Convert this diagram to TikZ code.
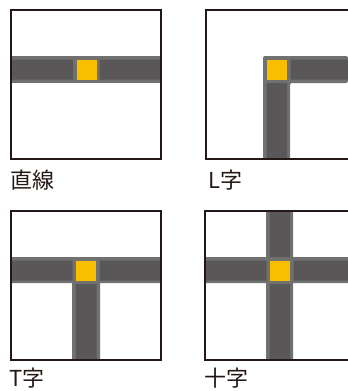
\documentclass[tikz,border=0pt]{standalone}
\usepackage{fontspec}
\newfontfamily\jpfont{Noto Sans CJK JP}
\definecolor{framec}{HTML}{231815}
\definecolor{roadc}{HTML}{595757}
\definecolor{edgec}{HTML}{727171}
\definecolor{cellc}{HTML}{F8BF00}
\tikzset{
  frame/.style={draw=framec, line width=1.4pt},
  roadedge/.style={fill=edgec},
  road/.style={fill=roadc},
  cell/.style={fill=cellc},
  caption/.style={anchor=west, inner sep=0pt, font=\jpfont\fontsize{22}{22}\selectfont, text=framec}
}
\begin{document}
\begin{tikzpicture}[x=1pt, y=-1pt]
    \useasboundingbox (0, 0) rectangle (348, 391);
    % straight
    \fill[roadedge] (11, 56) rectangle (161, 83);
    \fill[road] (11, 59.5) rectangle (73, 79.5)
                (99.5, 59.5) rectangle (161, 79.5);
    \fill[cell] (76.5, 59.5) rectangle (96.5, 79.5);
    \draw[frame] (11, 10) rectangle (161, 159);
    \node[caption] (straight) at (10, 180) {直線};
    % L
    \fill[roadedge, rounded corners=2pt] (263, 159) -- (263, 56) -- (348, 56) -- (348, 83) -- (290, 83) -- (290, 159) -- cycle;
    \fill[road] (290.5, 59.5) rectangle (348, 79.5)
                (266.5, 83) rectangle (287, 159);
    \fill[cell] (266.5, 59.5) rectangle (287, 79.5);
    \draw[frame] (348, 10) -| (206, 159) -- (348, 159);
    \node[caption] (lshape) at (208, 180) {L字};
    % T
    \fill[roadedge] (11, 257) rectangle (161, 283)
                    (72, 283) rectangle (100, 360);
    \fill[road] (11, 260.5) rectangle (72.5, 280.5)
                (99.5, 260.5) rectangle (161, 280.5)
                (75.5, 284) rectangle (96.5, 360);
    \fill[cell] (75.5, 260.5) rectangle (96, 280.5);
    \draw[frame] (11, 211) rectangle (161, 360);
    \node[caption] (tshape) at (9, 378) {T字};
    % cross
    \fill[roadedge] (205, 257) rectangle (348, 283)
                    (266, 211) rectangle (293, 360);
    \fill[road] (205, 260.5) rectangle (266.5, 280.5)
                (293.5, 260.5) rectangle (348, 280.5)
                (269.5, 211) rectangle (290, 257)
                (269.5, 284) rectangle (290, 360);
    \fill[cell] (270, 260.5) rectangle (290, 280.5);
    \draw[frame] (348, 211) -| (205, 360) -- (348, 360);
    \node[caption] (cross) at (204, 378) {十字};
\end{tikzpicture}
\end{document}
